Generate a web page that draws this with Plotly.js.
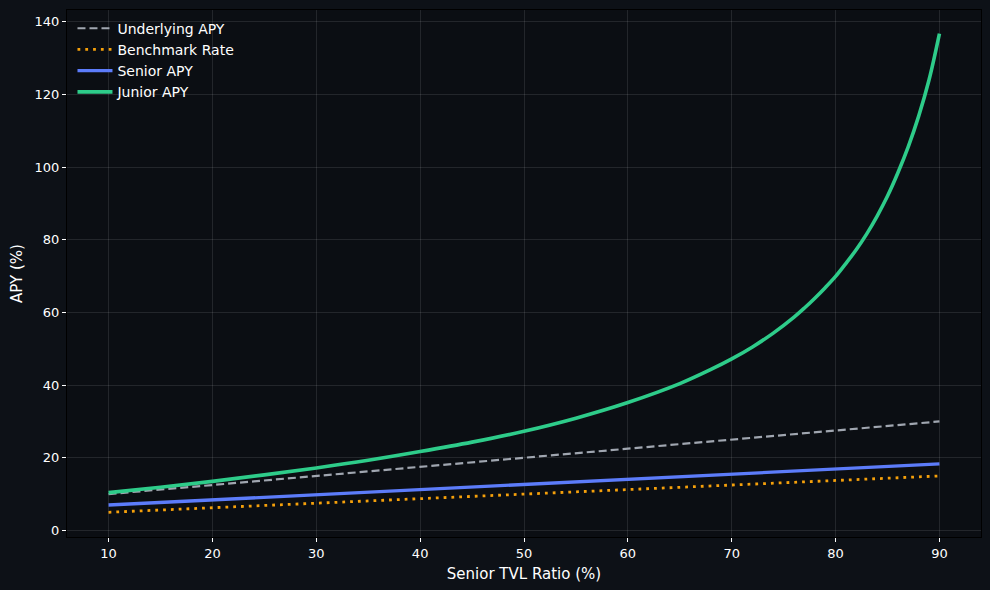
<!DOCTYPE html>
<html>
<head>
<meta charset="utf-8">
<script src="https://cdn.plot.ly/plotly-3.0.1.min.js"></script>
<style>
html,body{margin:0;padding:0;background:#0d1117;}
#chart{width:990px;height:590px;}
</style>
</head>
<body>
<div id="chart"></div>
<script>
// Senior TVL ratio (%)
const seniorRatio = [10, 20, 30, 40, 50, 60, 70, 80, 90];
const underlyingAPY = [10, 12.5, 15, 17.5, 20, 22.5, 25, 27.5, 30];
const benchmarkRate = [5, 6.25, 7.5, 8.75, 10, 11.25, 12.5, 13.75, 15];
const seniorAPY = [7.0, 8.4, 9.8, 11.2, 12.65, 14.05, 15.5, 16.9, 18.3];
const juniorRatio = [10, 15, 20, 25, 30, 35, 40, 45, 50, 55, 60, 65, 68, 70, 72, 74, 76, 77, 78, 79, 80, 81, 82, 83, 84, 85, 86, 87, 88, 89, 90];
const juniorAPY = [10.4, 11.9, 13.5, 15.3, 17.2, 19.3, 21.7, 24.3, 27.3, 30.9, 35.2, 40.4, 44.3, 47.2, 50.5, 54.3, 58.7, 61.2, 63.9, 66.8, 69.9, 73.5, 77.3, 81.6, 86.5, 92.0, 98.4, 105.6, 114.0, 124.0, 136.7];

const traces = [
  {x: seniorRatio, y: underlyingAPY, name: 'Underlying APY', mode: 'lines',
   line: {color: '#a0a6b0', width: 2.2, dash: '8px,4px'}},
  {x: seniorRatio, y: benchmarkRate, name: 'Benchmark Rate', mode: 'lines',
   line: {color: '#f5a00b', width: 2.8, dash: '2.8px,5px'}},
  {x: seniorRatio, y: seniorAPY, name: 'Senior APY', mode: 'lines',
   line: {color: '#5c7cfa', width: 3.3}},
  {x: juniorRatio, y: juniorAPY, name: 'Junior APY', mode: 'lines',
   line: {color: '#2ecc8a', width: 3.6, shape: 'spline', smoothing: 1}}
];

const axisCommon = {
  showgrid: true,
  gridcolor: 'rgba(255,255,255,0.1)',
  gridwidth: 1,
  zeroline: false,
  showline: true,
  linecolor: '#000000',
  linewidth: 1,
  mirror: true,
  ticks: 'outside',
  ticklen: 4,
  tickwidth: 1,
  tickcolor: '#ffffff',
  tickfont: {family: 'DejaVu Sans', size: 13, color: '#ffffff'}
};

const layout = {
  width: 990, height: 590,
  paper_bgcolor: '#0d1117',
  plot_bgcolor: '#0b0e13',
  margin: {l: 67, r: 9, t: 10, b: 53},
  showlegend: true,
  legend: {x: 0.006, y: 0.995, xanchor: 'left', yanchor: 'top',
           bgcolor: 'rgba(0,0,0,0)', borderwidth: 0,
           font: {family: 'DejaVu Sans', size: 14, color: '#ffffff'},
           tracegroupgap: 0, itemwidth: 35},
  xaxis: Object.assign({}, axisCommon, {
    range: [6, 94], tickvals: [10, 20, 30, 40, 50, 60, 70, 80, 90],
    title: {text: 'Senior TVL Ratio (%)', font: {family: 'DejaVu Sans', size: 15, color: '#ffffff'}, standoff: 8}
  }),
  yaxis: Object.assign({}, axisCommon, {
    range: [-1.8, 143.2], tickvals: [0, 20, 40, 60, 80, 100, 120, 140],
    title: {text: 'APY (%)', font: {family: 'DejaVu Sans', size: 15, color: '#ffffff'}, standoff: 8}
  })
};

Plotly.newPlot('chart', traces, layout, {displayModeBar: false, staticPlot: true});
</script>
</body>
</html>
